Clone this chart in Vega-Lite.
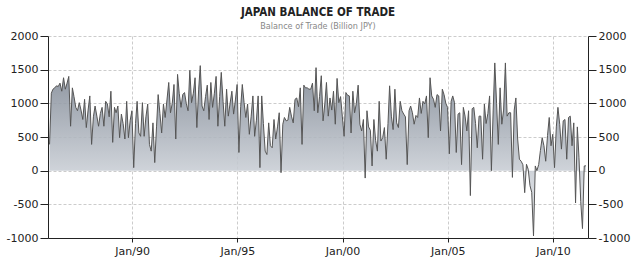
{
"$schema": "https://vega.github.io/schema/vega-lite/v6.json",
"width": 540, "height": 202, "autosize": "none",
"padding": {"left": 48, "top": 36, "right": 50, "bottom": 27},
"background": "white",
"title": {"text": "JAPAN BALANCE OF TRADE", "subtitle": "Balance of Trade (Billion JPY)", "anchor": "middle", "frame": "group", "font": "DejaVu Sans Condensed", "fontSize": 11.5, "fontWeight": "bold", "color": "#222222", "subtitleFont": "DejaVu Sans Condensed", "subtitleFontSize": 9, "subtitleColor": "#888888", "subtitlePadding": 4, "offset": -1},
"config": {"view": {"stroke": null}, "axis": {"labelFont": "DejaVu Sans", "labelFontSize": 11, "labelColor": "#222222", "tickColor": "#222222", "domainColor": "#222222", "gridColor": "#cccccc", "gridDash": [3, 2], "title": null}},
"data": {"values": [
{"d":"1986-01-28","v":390},{"d":"1986-02-28","v":1150},{"d":"1986-03-28","v":1210},{"d":"1986-04-28","v":1230},{"d":"1986-05-28","v":1260},{"d":"1986-06-28","v":1250},{"d":"1986-07-28","v":1300},{"d":"1986-08-28","v":1180},{"d":"1986-09-28","v":1380},{"d":"1986-10-28","v":1210},{"d":"1986-11-28","v":1300},{"d":"1986-12-28","v":1400},
{"d":"1987-01-28","v":660},{"d":"1987-02-28","v":1230},{"d":"1987-03-28","v":1100},{"d":"1987-04-28","v":940},{"d":"1987-05-28","v":890},{"d":"1987-06-28","v":1010},{"d":"1987-07-28","v":900},{"d":"1987-08-28","v":760},{"d":"1987-09-28","v":1060},{"d":"1987-10-28","v":640},{"d":"1987-11-28","v":900},{"d":"1987-12-28","v":1110},
{"d":"1988-01-28","v":390},{"d":"1988-02-28","v":800},{"d":"1988-03-28","v":960},{"d":"1988-04-28","v":810},{"d":"1988-05-28","v":660},{"d":"1988-06-28","v":850},{"d":"1988-07-28","v":940},{"d":"1988-08-28","v":660},{"d":"1988-09-28","v":1030},{"d":"1988-10-28","v":990},{"d":"1988-11-28","v":800},{"d":"1988-12-28","v":1180},
{"d":"1989-01-28","v":420},{"d":"1989-02-28","v":940},{"d":"1989-03-28","v":860},{"d":"1989-04-28","v":960},{"d":"1989-05-28","v":490},{"d":"1989-06-28","v":840},{"d":"1989-07-28","v":700},{"d":"1989-08-28","v":470},{"d":"1989-09-28","v":1030},{"d":"1989-10-28","v":490},{"d":"1989-11-28","v":750},{"d":"1989-12-28","v":890},
{"d":"1990-01-28","v":45},{"d":"1990-02-28","v":700},{"d":"1990-03-28","v":1030},{"d":"1990-04-28","v":560},{"d":"1990-05-28","v":510},{"d":"1990-06-28","v":1010},{"d":"1990-07-28","v":510},{"d":"1990-08-28","v":800},{"d":"1990-09-28","v":990},{"d":"1990-10-28","v":390},{"d":"1990-11-28","v":290},{"d":"1990-12-28","v":710},
{"d":"1991-01-28","v":120},{"d":"1991-02-28","v":650},{"d":"1991-03-28","v":1130},{"d":"1991-04-28","v":850},{"d":"1991-05-28","v":560},{"d":"1991-06-28","v":990},{"d":"1991-07-28","v":790},{"d":"1991-08-28","v":1050},{"d":"1991-09-28","v":1310},{"d":"1991-10-28","v":860},{"d":"1991-11-28","v":1000},{"d":"1991-12-28","v":1280},
{"d":"1992-01-28","v":470},{"d":"1992-02-28","v":1430},{"d":"1992-03-28","v":1150},{"d":"1992-04-28","v":940},{"d":"1992-05-28","v":1130},{"d":"1992-06-28","v":1160},{"d":"1992-07-28","v":1000},{"d":"1992-08-28","v":890},{"d":"1992-09-28","v":1490},{"d":"1992-10-28","v":1010},{"d":"1992-11-28","v":1150},{"d":"1992-12-28","v":1380},
{"d":"1993-01-28","v":640},{"d":"1993-02-28","v":1200},{"d":"1993-03-28","v":1560},{"d":"1993-04-28","v":960},{"d":"1993-05-28","v":890},{"d":"1993-06-28","v":1100},{"d":"1993-07-28","v":1270},{"d":"1993-08-28","v":760},{"d":"1993-09-28","v":1310},{"d":"1993-10-28","v":940},{"d":"1993-11-28","v":1150},{"d":"1993-12-28","v":1400},
{"d":"1994-01-28","v":660},{"d":"1994-02-28","v":1100},{"d":"1994-03-28","v":1460},{"d":"1994-04-28","v":1030},{"d":"1994-05-28","v":660},{"d":"1994-06-28","v":1210},{"d":"1994-07-28","v":810},{"d":"1994-08-28","v":1000},{"d":"1994-09-28","v":1180},{"d":"1994-10-28","v":840},{"d":"1994-11-28","v":1050},{"d":"1994-12-28","v":1280},
{"d":"1995-01-28","v":270},{"d":"1995-02-28","v":950},{"d":"1995-03-28","v":1280},{"d":"1995-04-28","v":1010},{"d":"1995-05-28","v":790},{"d":"1995-06-28","v":990},{"d":"1995-07-28","v":540},{"d":"1995-08-28","v":800},{"d":"1995-09-28","v":1110},{"d":"1995-10-28","v":510},{"d":"1995-11-28","v":750},{"d":"1995-12-28","v":1110},
{"d":"1996-01-28","v":45},{"d":"1996-02-28","v":1110},{"d":"1996-03-28","v":700},{"d":"1996-04-28","v":290},{"d":"1996-05-28","v":240},{"d":"1996-06-28","v":710},{"d":"1996-07-28","v":370},{"d":"1996-08-28","v":340},{"d":"1996-09-28","v":760},{"d":"1996-10-28","v":470},{"d":"1996-11-28","v":650},{"d":"1996-12-28","v":860},
{"d":"1997-01-28","v":-30},{"d":"1997-02-28","v":690},{"d":"1997-03-28","v":790},{"d":"1997-04-28","v":740},{"d":"1997-05-28","v":750},{"d":"1997-06-28","v":940},{"d":"1997-07-28","v":810},{"d":"1997-08-28","v":710},{"d":"1997-09-28","v":1060},{"d":"1997-10-28","v":1080},{"d":"1997-11-28","v":950},{"d":"1997-12-28","v":1230},
{"d":"1998-01-28","v":390},{"d":"1998-02-28","v":1270},{"d":"1998-03-28","v":1230},{"d":"1998-04-28","v":1230},{"d":"1998-05-28","v":1210},{"d":"1998-06-28","v":1210},{"d":"1998-07-28","v":1300},{"d":"1998-08-28","v":890},{"d":"1998-09-28","v":1530},{"d":"1998-10-28","v":860},{"d":"1998-11-28","v":1100},{"d":"1998-12-28","v":1410},
{"d":"1999-01-28","v":740},{"d":"1999-02-28","v":1000},{"d":"1999-03-28","v":1310},{"d":"1999-04-28","v":810},{"d":"1999-05-28","v":1080},{"d":"1999-06-28","v":900},{"d":"1999-07-28","v":1180},{"d":"1999-08-28","v":690},{"d":"1999-09-28","v":1370},{"d":"1999-10-28","v":1010},{"d":"1999-11-28","v":1100},{"d":"1999-12-28","v":810},
{"d":"2000-01-28","v":510},{"d":"2000-02-28","v":1160},{"d":"2000-03-28","v":1120},{"d":"2000-04-28","v":1110},{"d":"2000-05-28","v":560},{"d":"2000-06-28","v":1180},{"d":"2000-07-28","v":860},{"d":"2000-08-28","v":1000},{"d":"2000-09-28","v":1270},{"d":"2000-10-28","v":690},{"d":"2000-11-28","v":590},{"d":"2000-12-28","v":760},
{"d":"2001-01-28","v":-110},{"d":"2001-02-28","v":890},{"d":"2001-03-28","v":650},{"d":"2001-04-28","v":600},{"d":"2001-05-28","v":70},{"d":"2001-06-28","v":760},{"d":"2001-07-28","v":450},{"d":"2001-08-28","v":290},{"d":"2001-09-28","v":1030},{"d":"2001-10-28","v":440},{"d":"2001-11-28","v":490},{"d":"2001-12-28","v":640},
{"d":"2002-01-28","v":170},{"d":"2002-02-28","v":700},{"d":"2002-03-28","v":1260},{"d":"2002-04-28","v":810},{"d":"2002-05-28","v":610},{"d":"2002-06-28","v":1210},{"d":"2002-07-28","v":710},{"d":"2002-08-28","v":640},{"d":"2002-09-28","v":1030},{"d":"2002-10-28","v":890},{"d":"2002-11-28","v":840},{"d":"2002-12-28","v":800},
{"d":"2003-01-28","v":90},{"d":"2003-02-28","v":890},{"d":"2003-03-28","v":960},{"d":"2003-04-28","v":860},{"d":"2003-05-28","v":690},{"d":"2003-06-28","v":820},{"d":"2003-07-28","v":790},{"d":"2003-08-28","v":1080},{"d":"2003-09-28","v":850},{"d":"2003-10-28","v":1030},{"d":"2003-11-28","v":990},{"d":"2003-12-28","v":1110},
{"d":"2004-01-28","v":490},{"d":"2004-02-28","v":1380},{"d":"2004-03-28","v":1110},{"d":"2004-04-28","v":1060},{"d":"2004-05-28","v":940},{"d":"2004-06-28","v":1130},{"d":"2004-07-28","v":1110},{"d":"2004-08-28","v":590},{"d":"2004-09-28","v":1210},{"d":"2004-10-28","v":1130},{"d":"2004-11-28","v":1000},{"d":"2004-12-28","v":940},
{"d":"2005-01-28","v":250},{"d":"2005-02-28","v":1030},{"d":"2005-03-28","v":1110},{"d":"2005-04-28","v":1010},{"d":"2005-05-28","v":270},{"d":"2005-06-28","v":840},{"d":"2005-07-28","v":860},{"d":"2005-08-28","v":90},{"d":"2005-09-28","v":940},{"d":"2005-10-28","v":810},{"d":"2005-11-28","v":590},{"d":"2005-12-28","v":890},
{"d":"2006-01-28","v":-370},{"d":"2006-02-28","v":920},{"d":"2006-03-28","v":940},{"d":"2006-04-28","v":700},{"d":"2006-05-28","v":340},{"d":"2006-06-28","v":810},{"d":"2006-07-28","v":810},{"d":"2006-08-28","v":170},{"d":"2006-09-28","v":990},{"d":"2006-10-28","v":700},{"d":"2006-11-28","v":850},{"d":"2006-12-28","v":1110},
{"d":"2007-01-28","v":0},{"d":"2007-02-28","v":900},{"d":"2007-03-28","v":1600},{"d":"2007-04-28","v":1000},{"d":"2007-05-28","v":390},{"d":"2007-06-28","v":1230},{"d":"2007-07-28","v":690},{"d":"2007-08-28","v":900},{"d":"2007-09-28","v":1600},{"d":"2007-10-28","v":810},{"d":"2007-11-28","v":860},{"d":"2007-12-28","v":860},
{"d":"2008-01-28","v":-100},{"d":"2008-02-28","v":900},{"d":"2008-03-28","v":1080},{"d":"2008-04-28","v":470},{"d":"2008-05-28","v":170},{"d":"2008-06-28","v":140},{"d":"2008-07-28","v":88},{"d":"2008-08-28","v":-327},{"d":"2008-09-28","v":95},{"d":"2008-10-28","v":20},{"d":"2008-11-28","v":-224},{"d":"2008-12-28","v":-321},
{"d":"2009-01-28","v":-970},{"d":"2009-02-28","v":70},{"d":"2009-03-28","v":0},{"d":"2009-04-28","v":90},{"d":"2009-05-28","v":300},{"d":"2009-06-28","v":490},{"d":"2009-07-28","v":370},{"d":"2009-08-28","v":140},{"d":"2009-09-28","v":520},{"d":"2009-10-28","v":790},{"d":"2009-11-28","v":370},{"d":"2009-12-28","v":540},
{"d":"2010-01-28","v":45},{"d":"2010-02-28","v":650},{"d":"2010-03-28","v":940},{"d":"2010-04-28","v":690},{"d":"2010-05-28","v":320},{"d":"2010-06-28","v":740},{"d":"2010-07-28","v":760},{"d":"2010-08-28","v":170},{"d":"2010-09-28","v":790},{"d":"2010-10-28","v":810},{"d":"2010-11-28","v":370},{"d":"2010-12-28","v":710},
{"d":"2011-01-28","v":-480},{"d":"2011-02-28","v":650},{"d":"2011-03-28","v":200},{"d":"2011-04-28","v":-460},{"d":"2011-05-28","v":-860},{"d":"2011-06-28","v":70},{"d":"2011-07-28","v":72}
]},
"encoding": {
  "x": {"field": "d", "type": "temporal",
    "scale": {"type": "utc", "domain": [{"year": 1986, "month": 1, "date": 1, "utc": true}, {"year": 2011, "month": 9, "date": 1, "utc": true}]},
    "axis": {"values": [{"year": 1990, "month": 1, "date": 1, "utc": true}, {"year": 1995, "month": 1, "date": 1, "utc": true}, {"year": 2000, "month": 1, "date": 1, "utc": true}, {"year": 2005, "month": 1, "date": 1, "utc": true}, {"year": 2010, "month": 1, "date": 1, "utc": true}], "labelExpr": "utcFormat(datum.value, '%b/%y')", "grid": true, "tickSize": 4, "labelPadding": 3, "labelFlush": false}}
},
"layer": [
  {"mark": {"type": "area", "fill": {"gradient": "linear", "x1": 0, "y1": 0, "x2": 0, "y2": 1, "stops": [{"offset": 0, "color": "#78818e"}, {"offset": 0.62, "color": "#c8cdd4"}, {"offset": 1, "color": "#e4e6e8"}]}, "fillOpacity": 0.88},
   "encoding": {"y": {"field": "v", "type": "quantitative", "scale": {"domain": [-1000, 2000], "nice": false}, "axis": {"orient": "left", "values": [-1000, -500, 0, 500, 1000, 1500, 2000], "labelExpr": "'' + datum.value", "grid": true, "tickSize": 8, "labelPadding": 2}}}},
  {"mark": {"type": "line", "stroke": "#555555", "strokeWidth": 1},
   "encoding": {"y": {"field": "v", "type": "quantitative", "scale": {"domain": [-1000, 2000], "nice": false}, "axis": {"orient": "right", "values": [-1000, -500, 0, 500, 1000, 1500, 2000], "labelExpr": "'' + datum.value", "grid": false, "tickSize": 8, "labelPadding": 2}}}}
],
"resolve": {"axis": {"y": "independent"}}
}
